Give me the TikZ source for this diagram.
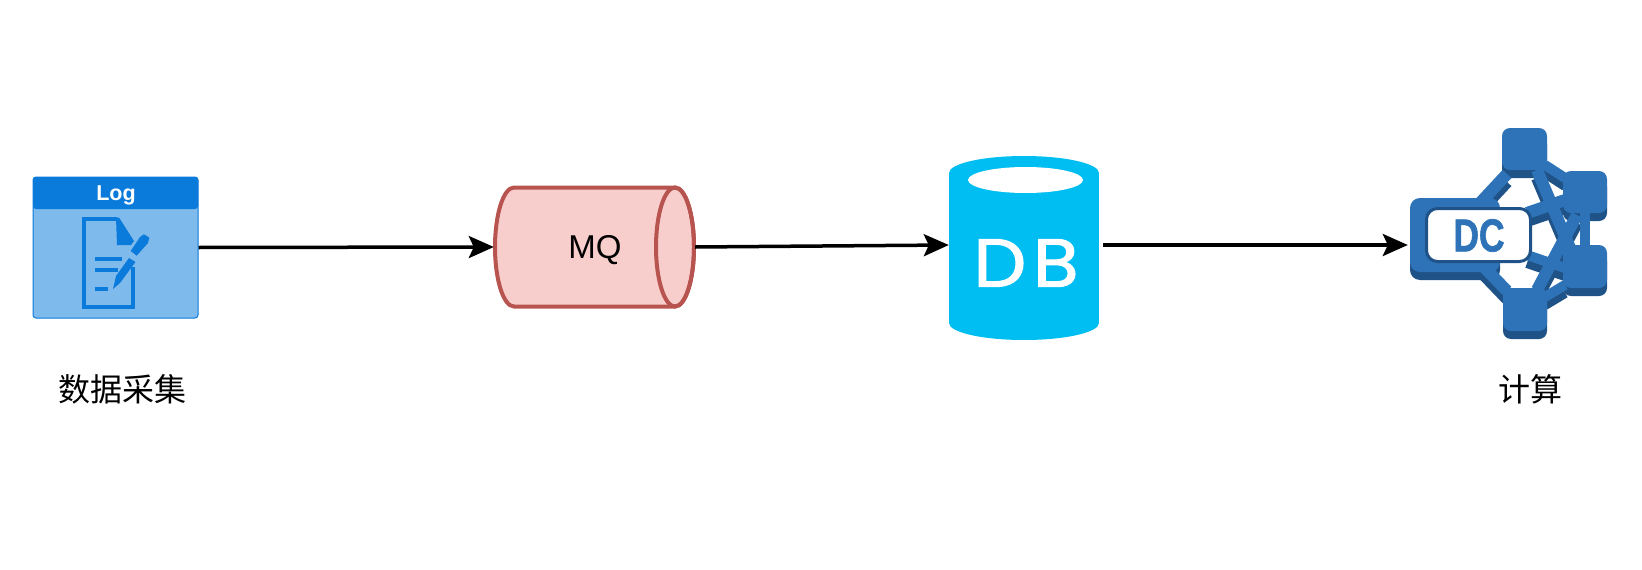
\documentclass[tikz,border=0pt]{standalone}
\usepackage{fontspec}
\setmainfont{Liberation Sans}
\newfontfamily\cjkfont{Noto Sans CJK SC}
\newfontfamily\dbfont[FakeBold=1.5]{Poppins}
\newfontfamily\dcfont[BoldFeatures={FakeBold=1.5}]{Liberation Sans}
\usetikzlibrary{arrows.meta}
\definecolor{logdark}{HTML}{0A7ADB}
\definecolor{loglight}{HTML}{7FBAEC}
\definecolor{mqfill}{HTML}{F8CECC}
\definecolor{mqline}{HTML}{B85450}
\definecolor{dbblue}{HTML}{00BEF2}
\definecolor{dcblue}{HTML}{2E73B8}
\definecolor{dcdark}{HTML}{1F5286}
\tikzset{
    flow/.style={line width=3.5pt,-{Stealth[length=25pt,width=22pt,inset=5pt]}},
    caption/.style={font=\cjkfont\fontsize{32}{36}\selectfont,inner sep=0pt},
}
\begin{document}
\begin{tikzpicture}[x=1pt,y=-1pt]
    \useasboundingbox (0,0) rectangle (1642,570);
    % log icon
    \node[draw=logdark,fill=loglight,line width=1pt,rounded corners=3pt,minimum width=165pt,minimum height=141pt,inner sep=0pt] (log) at (115.5,247.5) {};
    \node[fill=logdark,rounded corners=3pt,minimum width=165pt,minimum height=32pt,inner sep=0pt] (logtitle) at (115.5,193) {};
    \node[text=white,inner sep=0pt,font=\bfseries\fontsize{21.5}{26}\selectfont] (logname) at (116,195) {Log};
    \draw[logdark,line width=4pt] (133,267) -- (133,307) -- (84,307) -- (84,219) -- (117,219);
    \fill[logdark] (116,217.5) -- (119,217.5) -- (134,241) -- (131,245) -- (117,245) -- cycle;
    \draw[logdark,line width=4pt] (95,259) -- (122,259);
    \draw[logdark,line width=4pt] (95,270) -- (118,270);
    \draw[logdark,line width=4pt] (95,289) -- (108,289);
    \fill[logdark] (113,289) -- (116,276) -- (129,258) -- (135.5,262) -- (120,283) -- cycle;
    \fill[logdark] (130.7,251) -- (140,237) -- (144,234.3) -- (149.3,237.7) -- (148,243) -- (136.7,255.7) -- cycle;
    \node[caption] (logcaption) at (122.5,389) {数据采集};
    % queue
    \node[minimum width=201pt,minimum height=120pt,inner sep=0pt] (mq) at (594.5,247) {};
    \filldraw[draw=mqline,fill=mqfill,line width=4pt] (514,187.5) arc[start angle=90,end angle=270,x radius=19pt,y radius=59.5pt] -- (675,306.5) arc[start angle=270,end angle=450,x radius=19pt,y radius=59.5pt] -- cycle;
    \draw[draw=mqline,line width=4pt] (675,247) ellipse (19 and 59.5);
    \node[inner sep=0pt,font=\fontsize{33}{36}\selectfont] (mqname) at (595,250) {MQ};
    % database
    \node[minimum width=150pt,minimum height=184pt,inner sep=0pt] (db) at (1024,248) {};
    \fill[dbblue] (1024,173) ellipse (75 and 17);
    \fill[dbblue] (1024,323) ellipse (75 and 17);
    \fill[dbblue] (949,173) rectangle (1099,323);
    \fill[white] (1025.5,180) ellipse (57.5 and 13);
    \node[text=white,font=\dbfont\fontsize{68}{80}\selectfont,xscale=1.1,inner sep=0pt] (dbname) at (1026,263) {D\kern6pt B};
    % compute icon
    \foreach \col/\dy in {dcdark/8,dcblue/0} {
        \begin{scope}[yshift=-\dy pt]
            \draw[\col,line width=12pt] (1480,203) -- (1507,174);
            \draw[\col,line width=12pt] (1483,266) -- (1507,291);
            \draw[\col,line width=12pt] (1537,170) -- (1570,248);
            \draw[\col,line width=12pt] (1537,290) -- (1577,215);
            \draw[\col,line width=10pt] (1545,165) -- (1565,178);
            \draw[\col,line width=10pt] (1545,297) -- (1565,285);
            \draw[\col,line width=12pt] (1527,213) -- (1565,200);
            \draw[\col,line width=10pt] (1527,255) -- (1565,268);
            \draw[\col,line width=10pt] (1585,213) -- (1585,245);
            \fill[\col,rounded corners=8pt] (1502,128) rectangle (1547,170);
            \fill[\col,rounded corners=8pt] (1563,171) rectangle (1607,213);
            \fill[\col,rounded corners=8pt] (1563,245) rectangle (1607,288);
            \fill[\col,rounded corners=8pt] (1503,288) rectangle (1547,331);
            \fill[\col,rounded corners=10pt] (1410,198) rectangle (1500,272);
        \end{scope}
    }
    \node[minimum width=90pt,minimum height=74pt,inner sep=0pt] (dc) at (1455,235) {};
    \node[draw=dcdark,fill=white,line width=3pt,rounded corners=11pt,minimum width=104pt,minimum height=53pt,inner sep=0pt] (dcbox) at (1478.5,235) {};
    \node[text=dcblue,font=\dcfont\bfseries\fontsize{46}{50}\selectfont,xscale=0.77,inner sep=0pt] (dcname) at (1479,235.5) {DC};
    \node[caption] (dccaption) at (1530,389) {计算};
    % connectors
    \draw[flow] (log.east) -- (mq.west);
    \draw[flow] (mq.east) -- ([yshift=3pt]db.west);
    \draw[flow,shorten <=4pt] ([yshift=3pt]db.east) -- ([yshift=-10pt,xshift=-2pt]dc.west);
\end{tikzpicture}
\end{document}
